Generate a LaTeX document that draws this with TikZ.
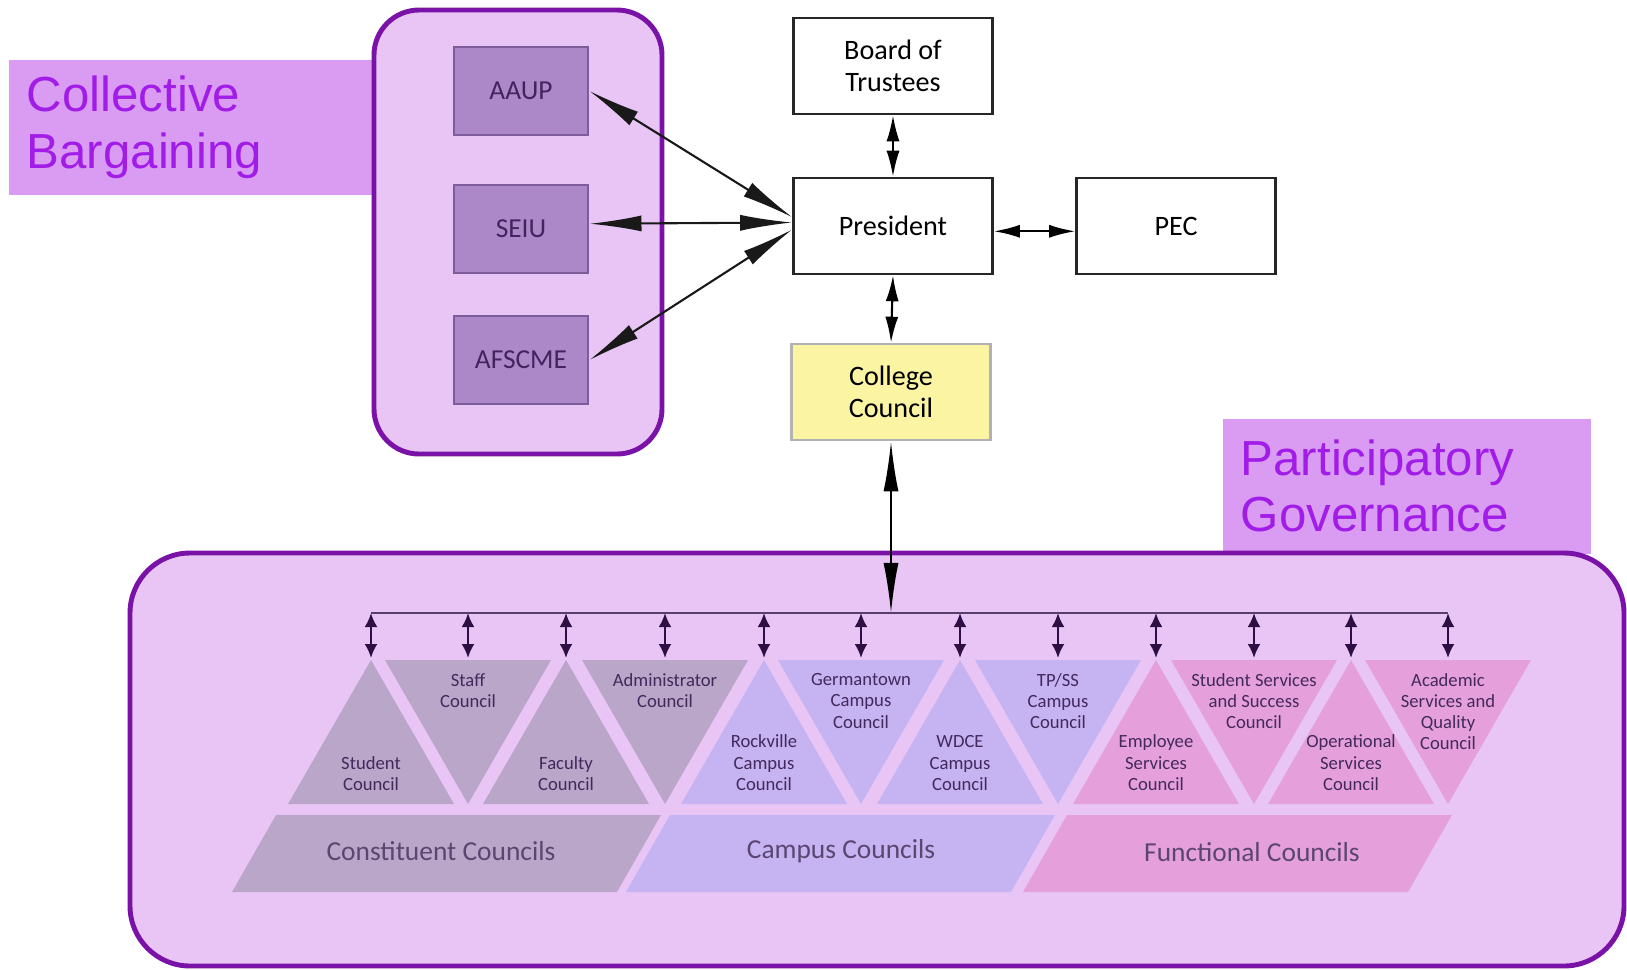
\documentclass[tikz,border=0pt]{standalone}
\usepackage{fontspec}
\setmainfont{Carlito}
\newfontfamily\titlefont{Liberation Sans}
\usetikzlibrary{arrows.meta}

\definecolor{ringline}{HTML}{7A12A8}
\definecolor{ringfill}{HTML}{E8C5F5}
\definecolor{tagfill}{HTML}{D99CF2}
\definecolor{tagtext}{HTML}{A21CE8}
\definecolor{unionfill}{HTML}{AD88C9}
\definecolor{unionline}{HTML}{7C5C9A}
\definecolor{uniontext}{HTML}{43245F}
\definecolor{ccfill}{HTML}{FBF4A2}
\definecolor{constfill}{HTML}{B9A6C9}
\definecolor{campfill}{HTML}{C6B3F1}
\definecolor{funcfill}{HTML}{E5A0DB}
\definecolor{tritext}{HTML}{43295C}
\definecolor{grouptext}{HTML}{5A4670}
\definecolor{busline}{HTML}{2E0F45}

\begin{document}
\begin{tikzpicture}[x=0.01cm, y=-0.01cm,
  ring/.style={draw=ringline, fill=ringfill, line width=1.4pt},
  tag/.style={fill=tagfill, text=tagtext, font=\titlefont\fontsize{14}{16}\selectfont, align=left, inner xsep=0.18cm, minimum height=1.35cm, anchor=north west},
  orgbox/.style={draw=black!85, line width=0.7pt, fill=white, minimum width=1.99cm, minimum height=0.96cm, align=center, font=\fontsize{8}{9}\selectfont},
  unionbox/.style={draw=unionline, line width=0.8pt, fill=unionfill, text=uniontext, minimum width=1.34cm, minimum height=0.88cm, font=\fontsize{7.8}{9}\selectfont},
  bigarrow/.style={<->, >={Latex[length=5.2mm,width=1.6mm]}, line width=0.6pt, draw=black!90},
  smallarrow/.style={<->, >={Latex[length=2.6mm,width=1.3mm]}, line width=0.6pt},
  busarrow/.style={<->, >={Latex[length=1.4mm,width=1.3mm]}, line width=0.7pt, draw=busline},
  trilabel/.style={text=tritext, align=center, font=\fontsize{5.3}{6}\selectfont, inner sep=0pt},
  grouplabel/.style={text=grouptext, font=\fontsize{7.8}{9}\selectfont}]
  \useasboundingbox (0,0) rectangle (1627,969);
  % labels behind the frames
  \node[tag, text width=3.30cm] (cbTag) at (8,59) {Collective\\Bargaining};
  \node[tag, text width=3.32cm] (pgTag) at (1222,418) {Participatory\\Governance};
  \draw[ring, rounded corners=0.45cm] (374,10) rectangle (662,454);
  \draw[ring, rounded corners=0.6cm] (130,553) rectangle (1624,966);
  % unions
  \node[unionbox] (AAUP) at (521,91) {AAUP};
  \node[unionbox] (SEIU) at (521,229) {SEIU};
  \node[unionbox] (AFSCME) at (521,360) {AFSCME};
  % administration
  \node[orgbox] (board) at (893,66) {Board of\\Trustees};
  \node[orgbox] (President) at (893,226) {President};
  \node[orgbox] (PEC) at (1176,226) {PEC};
  \node[orgbox, fill=ccfill, draw=black!30] (College) at (891,392) {College\\Council};
  \draw[bigarrow] (AAUP.east) -- ([yshift=2.5pt]President.west);
  \draw[bigarrow] ([yshift=1.5pt]SEIU.east) -- ([yshift=1pt]President.west);
  \draw[bigarrow] (AFSCME.east) -- ([yshift=-1pt]President.west);
  \draw[smallarrow] (board.south) -- (President.north);
  \draw[smallarrow] ([yshift=-1.5pt]President.east) -- ([yshift=-1.5pt]PEC.west);
  \draw[smallarrow] (President.south) -- (College.north);
  % councils
  \fill[constfill] (371,660) -- ++(83,144) -- ++(-166,0) -- cycle;
  \fill[constfill] (468,804) -- ++(83,-144) -- ++(-166,0) -- cycle;
  \fill[constfill] (566,660) -- ++(83,144) -- ++(-166,0) -- cycle;
  \fill[constfill] (665,804) -- ++(83,-144) -- ++(-166,0) -- cycle;
  \fill[campfill] (764,660) -- ++(83,144) -- ++(-166,0) -- cycle;
  \fill[campfill] (861,804) -- ++(83,-144) -- ++(-166,0) -- cycle;
  \fill[campfill] (960,660) -- ++(83,144) -- ++(-166,0) -- cycle;
  \fill[campfill] (1058,804) -- ++(83,-144) -- ++(-166,0) -- cycle;
  \fill[funcfill] (1156,660) -- ++(83,144) -- ++(-166,0) -- cycle;
  \fill[funcfill] (1254,804) -- ++(83,-144) -- ++(-166,0) -- cycle;
  \fill[funcfill] (1351,660) -- ++(83,144) -- ++(-166,0) -- cycle;
  \fill[funcfill] (1448,804) -- ++(83,-144) -- ++(-166,0) -- cycle;
  \fill[constfill] (276,815) -- (661,815) -- (617,892) -- (232,892) -- cycle;
  \fill[campfill] (670,815) -- (1055,815) -- (1011,892) -- (626,892) -- cycle;
  \fill[funcfill] (1067,815) -- (1452,815) -- (1408,892) -- (1023,892) -- cycle;
  \node[trilabel, anchor=south] (student) at (371,791) {Student\\Council};
  \node[trilabel, anchor=north] (staff) at (468,673) {Staff\\Council};
  \node[trilabel, anchor=south] (faculty) at (566,791) {Faculty\\Council};
  \node[trilabel, anchor=north] (admin) at (665,673) {Administrator\\Council};
  \node[trilabel, anchor=south] (rockville) at (764,791) {Rockville\\Campus\\Council};
  \node[trilabel, anchor=north] (germantown) at (861,673) {Germantown\\Campus\\Council};
  \node[trilabel, anchor=south] (wdce) at (960,791) {WDCE\\Campus\\Council};
  \node[trilabel, anchor=north] (tpss) at (1058,673) {TP/SS\\Campus\\Council};
  \node[trilabel, anchor=south] (employee) at (1156,791) {Employee\\Services\\Council};
  \node[trilabel, anchor=north] (stuserv) at (1254,673) {Student Services\\and Success\\Council};
  \node[trilabel, anchor=south] (operational) at (1351,791) {Operational\\Services\\Council};
  \node[trilabel, anchor=north] (academic) at (1448,673) {Academic\\Services and\\Quality\\Council};
  \node[grouplabel] (constituent) at (441,851) {Constituent Councils};
  \node[grouplabel] (campus) at (841,851) {Campus Councils};
  \node[grouplabel] (functional) at (1252,852) {Functional Councils};
  % bus
  \coordinate (busL) at (371,613);
  \coordinate (busR) at (1448,613);
  \coordinate (triTop) at (0,658);
  \coordinate (busHub) at (College.south |- busL);
  \draw[line width=0.8pt, draw=busline!80] (busL) -- (busR);
  \draw[<->, >={Latex[length=5mm,width=1.5mm]}, line width=0.6pt] (College.south) -- (busHub);
  \draw[busarrow] (student |- busL) -- (student |- triTop);
  \draw[busarrow] (staff |- busL) -- (staff |- triTop);
  \draw[busarrow] (faculty |- busL) -- (faculty |- triTop);
  \draw[busarrow] (admin |- busL) -- (admin |- triTop);
  \draw[busarrow] (rockville |- busL) -- (rockville |- triTop);
  \draw[busarrow] (germantown |- busL) -- (germantown |- triTop);
  \draw[busarrow] (wdce |- busL) -- (wdce |- triTop);
  \draw[busarrow] (tpss |- busL) -- (tpss |- triTop);
  \draw[busarrow] (employee |- busL) -- (employee |- triTop);
  \draw[busarrow] (stuserv |- busL) -- (stuserv |- triTop);
  \draw[busarrow] (operational |- busL) -- (operational |- triTop);
  \draw[busarrow] (academic |- busL) -- (academic |- triTop);
\end{tikzpicture}
\end{document}
